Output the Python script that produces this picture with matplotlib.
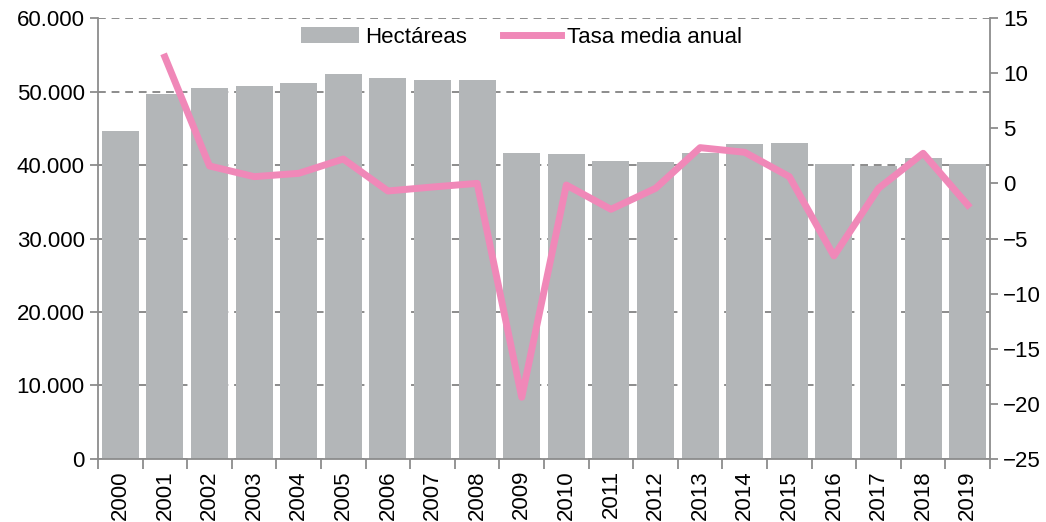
import matplotlib
matplotlib.use("Agg")
import matplotlib.pyplot as plt
from matplotlib.ticker import FuncFormatter, MultipleLocator
import numpy as np

plt.rcParams['font.family'] = ['Liberation Sans Narrow', 'Liberation Sans', 'DejaVu Sans']

years = [str(y) for y in range(2000, 2020)]
hectareas = [44630, 49660, 50480, 50790, 51200, 52380, 51840, 51560, 51560, 41590,
             41500, 40500, 40370, 41670, 42820, 42990, 40140, 39900, 40910, 40100]
# tasa media anual (%), no value for 2000
tasa = [np.nan, 11.46, 1.58, 0.61, 0.91, 2.21, -0.69, -0.33, 0.0, -19.4,
        -0.15, -2.35, -0.45, 3.24, 2.82, 0.61, -6.58, -0.45, 2.73, -1.96]

bar_color = '#b3b6b8'
line_color = '#f088b8'
axis_color = '#8c8c8c'

fig = plt.figure(figsize=(10.46, 5.22), dpi=100)
ax = fig.add_axes([0.0937, 0.1207, 0.8528, 0.8448])
x = np.arange(len(years))

ax.bar(x, hectareas, width=0.83, color=bar_color, label='Hectáreas', zorder=2)
ax.set_xlim(-0.5, len(years) - 0.5)
ax.set_ylim(0, 60000)
ax.yaxis.set_major_locator(MultipleLocator(10000))
ax.yaxis.set_major_formatter(FuncFormatter(lambda v, p: f'{int(v):,}'.replace(',', '.')))
ax.grid(axis='y', color='#8c8c8c', linestyle=(0, (4, 3)), linewidth=1.4, zorder=0)
ax.set_axisbelow(True)

ax.set_xticks(x)
ax.set_xticklabels(years, rotation=90)
ax.set_xticks(np.arange(-0.5, len(years)), minor=True)
ax.tick_params(axis='x', which='major', length=0, pad=8)
ax.tick_params(axis='x', which='minor', length=7, color=axis_color, width=1.3)
ax.tick_params(axis='y', length=6, color=axis_color, width=1.3)
ax.tick_params(labelsize=16)

for s in ['left', 'bottom']:
    ax.spines[s].set_color(axis_color)
    ax.spines[s].set_linewidth(1.3)
ax.spines['top'].set_visible(False)
ax.spines['right'].set_visible(False)

ax2 = ax.twinx()
ax2.plot(x, tasa, color=line_color, linewidth=5, label='Tasa media anual', zorder=3)
ax2.set_ylim(-25, 15)
ax2.yaxis.set_major_locator(MultipleLocator(5))
ax2.tick_params(axis='y', length=6, color=axis_color, width=1.3, labelsize=16)
ax2.spines['right'].set_color(axis_color)
ax2.spines['right'].set_linewidth(1.3)
for s in ['left', 'top', 'bottom']:
    ax2.spines[s].set_visible(False)

h1, l1 = ax.get_legend_handles_labels()
h2, l2 = ax2.get_legend_handles_labels()
ax2.legend(h1 + h2, l1 + l2, loc='upper center', bbox_to_anchor=(0.475, 1.0), ncol=2,
           frameon=False, fontsize=16, handlelength=2.6, columnspacing=1.6,
           handletextpad=0.3, borderaxespad=0.0)

fig.savefig('out.png', dpi=100)
